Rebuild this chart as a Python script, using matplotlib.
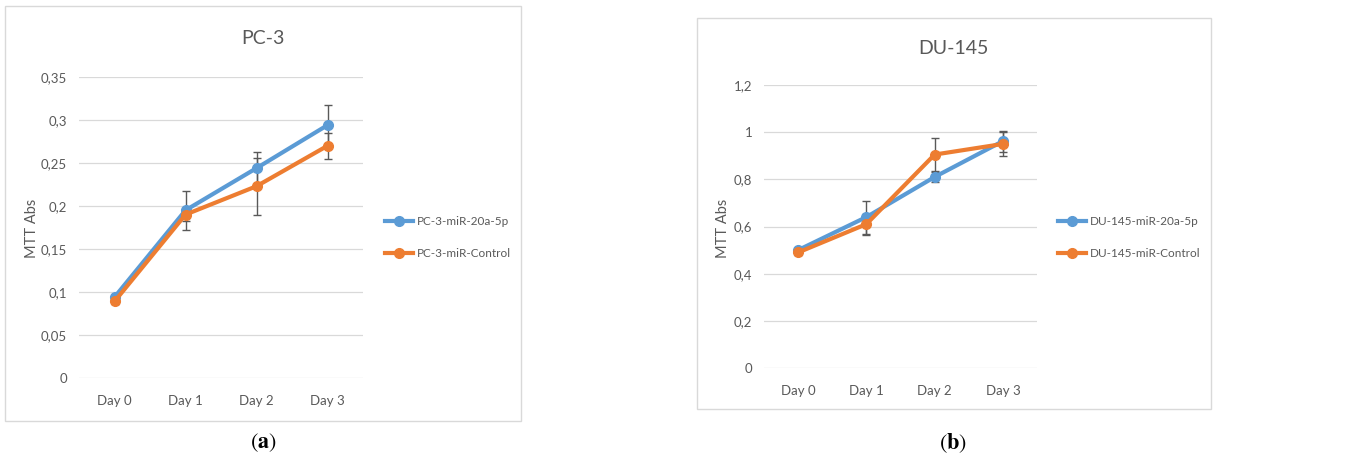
import matplotlib.pyplot as plt
from matplotlib.patches import Rectangle
from matplotlib.ticker import FuncFormatter

plt.rcParams['font.family'] = ['Lato', 'DejaVu Sans']
plt.rcParams['mathtext.fontset'] = 'stix'

days = ["Day 0", "Day 1", "Day 2", "Day 3"]

# PC-3 MTT absorbance
pc3_mir = [0.094, 0.195, 0.244, 0.294]
pc3_mir_err = [0.003, 0.023, 0.019, 0.023]
pc3_ctrl = [0.089, 0.190, 0.223, 0.270]
pc3_ctrl_err = [0.003, 0.008, 0.033, 0.015]

# DU-145 MTT absorbance
du_mir = [0.50, 0.64, 0.81, 0.962]
du_mir_err = [0.01, 0.07, 0.02, 0.045]
du_ctrl = [0.49, 0.61, 0.905, 0.95]
du_ctrl_err = [0.01, 0.045, 0.07, 0.05]

BLUE = "#5B9BD5"
ORANGE = "#ED7D31"
GREY = "#595959"
GRID = "#D9D9D9"

W, H = 1351, 459
fig = plt.figure(figsize=(W / 100, H / 100), dpi=100)


def px_box(x0, y0, x1, y1):
    # pixel box (top-left origin) -> figure fraction rect
    return [x0 / W, 1 - y1 / H, (x1 - x0) / W, (y1 - y0) / H]


def comma(v, pos):
    s = f"{v:.2f}".rstrip("0").rstrip(".")
    return s.replace(".", ",")


def panel(box, ax_box, title, title_xy, ymax, ystep, series, legend_xy, ylabel_x, caption, caption_x):
    b = px_box(*box)
    fig.patches.append(Rectangle((b[0], b[1]), b[2], b[3], transform=fig.transFigure,
                                 facecolor="white", edgecolor=GRID, lw=1.0, zorder=-5))
    ax = fig.add_axes(px_box(*ax_box))
    ax.set_zorder(2)
    x = range(len(days))
    handles = []
    for vals, errs, color, label in series:
        ax.errorbar(x, vals, yerr=errs, fmt="none", ecolor=GREY, elinewidth=1.0,
                    capsize=3, capthick=1.0, zorder=2)
        h, = ax.plot(x, vals, color=color, lw=3.0, marker="o", markersize=7,
                     label=label, zorder=3)
        handles.append(h)
    ax.set_xlim(-0.5, len(days) - 0.5)
    ax.set_ylim(0, ymax)
    ticks = [i * ystep for i in range(int(round(ymax / ystep)) + 1)]
    ax.set_yticks(ticks)
    ax.yaxis.set_major_formatter(FuncFormatter(comma))
    ax.set_xticks(list(x))
    ax.set_xticklabels(days)
    ax.tick_params(length=0, colors=GREY, labelsize=9.5)
    ax.tick_params(axis="x", pad=12)
    ax.tick_params(axis="y", pad=8.5)
    ax.grid(axis="y", color=GRID, lw=0.9)
    ax.set_axisbelow(True)
    for s in ax.spines.values():
        s.set_visible(False)
    ax.patch.set_alpha(0)

    fig.text(title_xy[0] / W, 1 - title_xy[1] / H, title, ha="center", va="center",
             fontsize=14, color=GREY)
    fig.text(ylabel_x / W, 1 - 228 / H, "MTT Abs", rotation=90, ha="center", va="center",
             fontsize=10.5, color=GREY)
    fig.legend(handles=handles, loc="upper left",
               bbox_to_anchor=(legend_xy[0] / W, 1 - legend_xy[1] / H),
               frameon=False, fontsize=8.5, labelcolor=GREY, handlelength=2.4,
               handletextpad=0.3, labelspacing=1.75, borderaxespad=0, borderpad=0)
    fig.text(caption_x / W, 1 - 443 / H, caption, ha="center", va="center",
             fontsize=16, color="black")


panel((5, 6, 521, 421), (79, 77, 363, 378), "PC-3", (263, 38), 0.35, 0.05,
      [(pc3_mir, pc3_mir_err, BLUE, "PC-3-miR-20a-5p"),
       (pc3_ctrl, pc3_ctrl_err, ORANGE, "PC-3-miR-Control")],
      (385, 216), 32, r"$(\mathbf{a})$", 263)

panel((697, 18, 1211, 409), (764, 85, 1037, 368), "DU-145", (953, 48), 1.2, 0.2,
      [(du_mir, du_mir_err, BLUE, "DU-145-miR-20a-5p"),
       (du_ctrl, du_ctrl_err, ORANGE, "DU-145-miR-Control")],
      (1058, 216), 723, r"$(\mathbf{b})$", 953)

fig.savefig("out.png", dpi=100, facecolor="white")
